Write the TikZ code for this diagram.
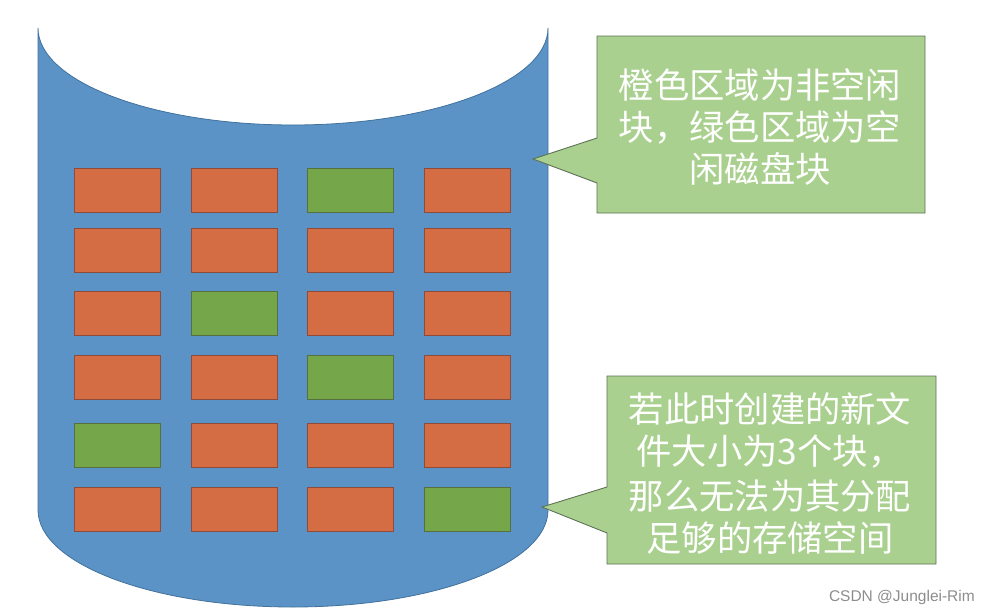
\documentclass[tikz,border=0pt]{standalone}
\usepackage{fontspec}
\newfontfamily\cjk{Noto Sans CJK SC}
\newfontfamily\wmfont{Liberation Sans}
\definecolor{cylblue}{HTML}{5B93C6}
\definecolor{cylline}{HTML}{41719C}
\definecolor{blkorange}{HTML}{D46D43}
\definecolor{blkorangeline}{HTML}{8E4B3A}
\definecolor{blkgreen}{HTML}{75A64A}
\definecolor{blkgreenline}{HTML}{56703F}
\definecolor{callfill}{HTML}{A9D08E}
\definecolor{callline}{HTML}{5E7257}
\definecolor{wmgray}{HTML}{8C8C8C}
\tikzset{
  blk/.style={minimum width=86pt, minimum height=44pt, inner sep=0pt, line width=0.9pt},
  fullblk/.style={blk, fill=blkorange, draw=blkorangeline},
  freeblk/.style={blk, fill=blkgreen, draw=blkgreenline},
  callout/.style={fill=callfill, draw=callline, line width=0.9pt, line join=miter},
  calltext/.style={text=white, align=center, font=\cjk\fontsize{35.3}{42}\selectfont, inner sep=0pt}
}
\begin{document}
\begin{tikzpicture}[x=1pt,y=-1pt]
\useasboundingbox (0,0) rectangle (983,616);
% cylinder
\path[fill=cylblue, draw=cylline, line width=0.8pt]
  (38,28) -- (38,510) arc[start angle=180, end angle=0, x radius=255, y radius=97]
  -- (548,28) arc[start angle=0, end angle=180, x radius=255, y radius=97] -- cycle;
% blocks
\foreach \r/\y in {1/190,2/250,3/313.5,4/377,5/445,6/509}{
  \foreach \c/\x in {1/117,2/234,3/350,4/467}{
    \node[fullblk] (b\r\c) at (\x,\y) {};
  }
}
\node[freeblk] (g13) at (350,190) {};
\node[freeblk] (g32) at (234,313.5) {};
\node[freeblk] (g43) at (350,377) {};
\node[freeblk] (g51) at (117,445) {};
\node[freeblk] (g64) at (467,509) {};
% callout 1
\coordinate (tip1) at (533,159);
\path[callout] (597,36) -- (925,36) -- (925,213) -- (597,213) -- (597,183) -- (tip1) -- (597,138) -- cycle;
\node[calltext] (t1) at (760,127) {橙色区域为非空闲\\块，绿色区域为空\\闲磁盘块};
% callout 2
\coordinate (tip2) at (542,507);
\path[callout] (607,376) -- (936,376) -- (936,564) -- (607,564) -- (607,533) -- (tip2) -- (607,487) -- cycle;
\node[calltext] (t2) at (770,473) {若此时创建的新文\\件大小为3个块，\\[3pt]那么无法为其分配\\足够的存储空间};
% watermark
\node[anchor=east, text=wmgray, font=\wmfont\fontsize{15.5}{18}\selectfont, inner sep=0pt] (wm) at (975,597) {CSDN @Junglei-Rim};
\end{tikzpicture}
\end{document}
